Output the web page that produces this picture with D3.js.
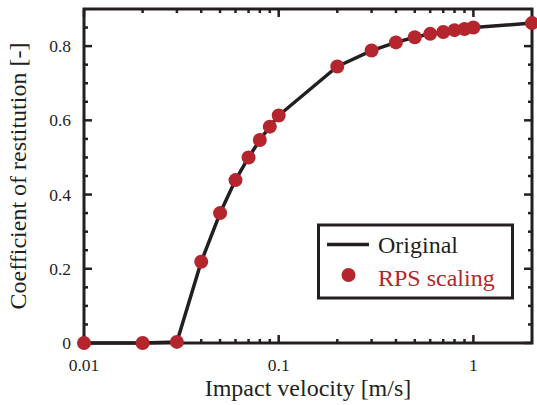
<!DOCTYPE html>
<html>
<head>
<meta charset="utf-8">
<script src="https://cdn.jsdelivr.net/npm/d3@7"></script>
<style>
  body { margin: 0; background: #fff; }
  text { font-family: "Liberation Serif", "Times New Roman", serif; fill: #231f20; }
</style>
</head>
<body>
<svg id="chart"></svg>
<script>
// impact velocity [m/s] and coefficient of restitution
var velocity = [0.01, 0.02, 0.03, 0.04, 0.05, 0.06, 0.07, 0.08, 0.09, 0.1,
                0.2, 0.3, 0.4, 0.5, 0.6, 0.7, 0.8, 0.9, 1, 2];
var cor = [0, 0, 0.003, 0.219, 0.35, 0.439, 0.50, 0.547, 0.583, 0.613,
           0.745, 0.788, 0.81, 0.824, 0.833, 0.838, 0.843, 0.846, 0.85, 0.862];
var xTickLabels = ["0.01", "0.1", "1"];
var yTickLabels = ["0", "0.2", "0.4", "0.6", "0.8"];
var legendLabels = ["Original", "RPS scaling"];

var width = 537,
    height = 405;
var pLeft = 84, pRight = 532, pTop = 9, pBottom = 343;
var ink = "#231f20", red = "#b5252e";

var svg = d3.select("#chart")
    .attr("width", width)
    .attr("height", height);

var x = d3.scaleLog().domain([0.01, 2]).range([pLeft, pRight]);
var y = d3.scaleLinear().domain([0, 0.9]).range([pBottom, pTop]);

// ticks, inward on all four sides
var xMajor = [0.01, 0.1, 1];
var xMinor = [];
[0.01, 0.1, 1].forEach(function (d) {
    for (var k = 2; k <= 9; k++) {
        if (d * k < 2) xMinor.push(d * k);
    }
});
var yMajor = [0, 0.2, 0.4, 0.6, 0.8];
var yMinor = [0.05, 0.1, 0.15, 0.25, 0.3, 0.35, 0.45, 0.5, 0.55, 0.65, 0.7, 0.75, 0.85];

var ticks = svg.append("g").attr("stroke", ink).attr("stroke-width", 2.5);
function xTicks(vals, len) {
    vals.forEach(function (v) {
        ticks.append("line").attr("x1", x(v)).attr("x2", x(v)).attr("y1", pBottom).attr("y2", pBottom - len);
        ticks.append("line").attr("x1", x(v)).attr("x2", x(v)).attr("y1", pTop).attr("y2", pTop + len);
    });
}
function yTicks(vals, len) {
    vals.forEach(function (v) {
        ticks.append("line").attr("y1", y(v)).attr("y2", y(v)).attr("x1", pLeft).attr("x2", pLeft + len);
        ticks.append("line").attr("y1", y(v)).attr("y2", y(v)).attr("x1", pRight).attr("x2", pRight - len);
    });
}
xTicks(xMajor, 8);
xTicks(xMinor, 4);
yTicks(yMajor, 8);
yTicks(yMinor, 4);

svg.append("rect")
    .attr("x", pLeft).attr("y", pTop)
    .attr("width", pRight - pLeft).attr("height", pBottom - pTop)
    .attr("fill", "none").attr("stroke", ink).attr("stroke-width", 3);

// tick labels
svg.append("g").selectAll("text")
    .data(xMajor)
    .enter().append("text")
    .attr("x", function (d) { return x(d); })
    .attr("y", 370.5)
    .attr("text-anchor", "middle")
    .style("font-size", "17.5px")
    .text(function (d, i) { return xTickLabels[i]; });

svg.append("g").selectAll("text")
    .data(yMajor)
    .enter().append("text")
    .attr("x", 71)
    .attr("y", function (d) { return y(d); })
    .attr("dy", "0.34em")
    .attr("text-anchor", "end")
    .style("font-size", "17.5px")
    .text(function (d, i) { return yTickLabels[i]; });

// axis titles
svg.append("text")
    .attr("x", (pLeft + pRight) / 2)
    .attr("y", 396)
    .attr("text-anchor", "middle")
    .style("font-size", "24px")
    .text("Impact velocity [m/s]");

svg.append("text")
    .attr("transform", "translate(26," + ((pTop + pBottom) / 2) + ") rotate(-90)")
    .attr("text-anchor", "middle")
    .style("font-size", "24px")
    .text("Coefficient of restitution [-]");

// data
var pts = velocity.map(function (v, i) { return { v: v, e: cor[i] }; });

var line = d3.line()
    .x(function (d) { return x(d.v); })
    .y(function (d) { return y(d.e); });

svg.append("path")
    .datum(pts)
    .attr("d", line)
    .attr("fill", "none")
    .attr("stroke", ink)
    .attr("stroke-width", 3.5)
    .attr("stroke-linejoin", "round");

svg.append("g").selectAll("circle")
    .data(pts)
    .enter().append("circle")
    .attr("cx", function (d) { return x(d.v); })
    .attr("cy", function (d) { return y(d.e); })
    .attr("r", 7)
    .attr("fill", red);

// legend
var lg = svg.append("g");
lg.append("rect")
    .attr("x", 318.5).attr("y", 225)
    .attr("width", 194).attr("height", 73)
    .attr("fill", "#fff").attr("stroke", ink).attr("stroke-width", 3);
lg.append("line")
    .attr("x1", 327).attr("x2", 369).attr("y1", 244.5).attr("y2", 244.5)
    .attr("stroke", ink).attr("stroke-width", 3.5);
lg.append("text")
    .attr("x", 378).attr("y", 253)
    .style("font-size", "24px")
    .text(legendLabels[0]);
lg.append("circle")
    .attr("cx", 348.5).attr("cy", 275).attr("r", 7).attr("fill", red);
lg.append("text")
    .attr("x", 378).attr("y", 286)
    .style("font-size", "24px")
    .style("fill", red)
    .text(legendLabels[1]);
</script>
</body>
</html>
